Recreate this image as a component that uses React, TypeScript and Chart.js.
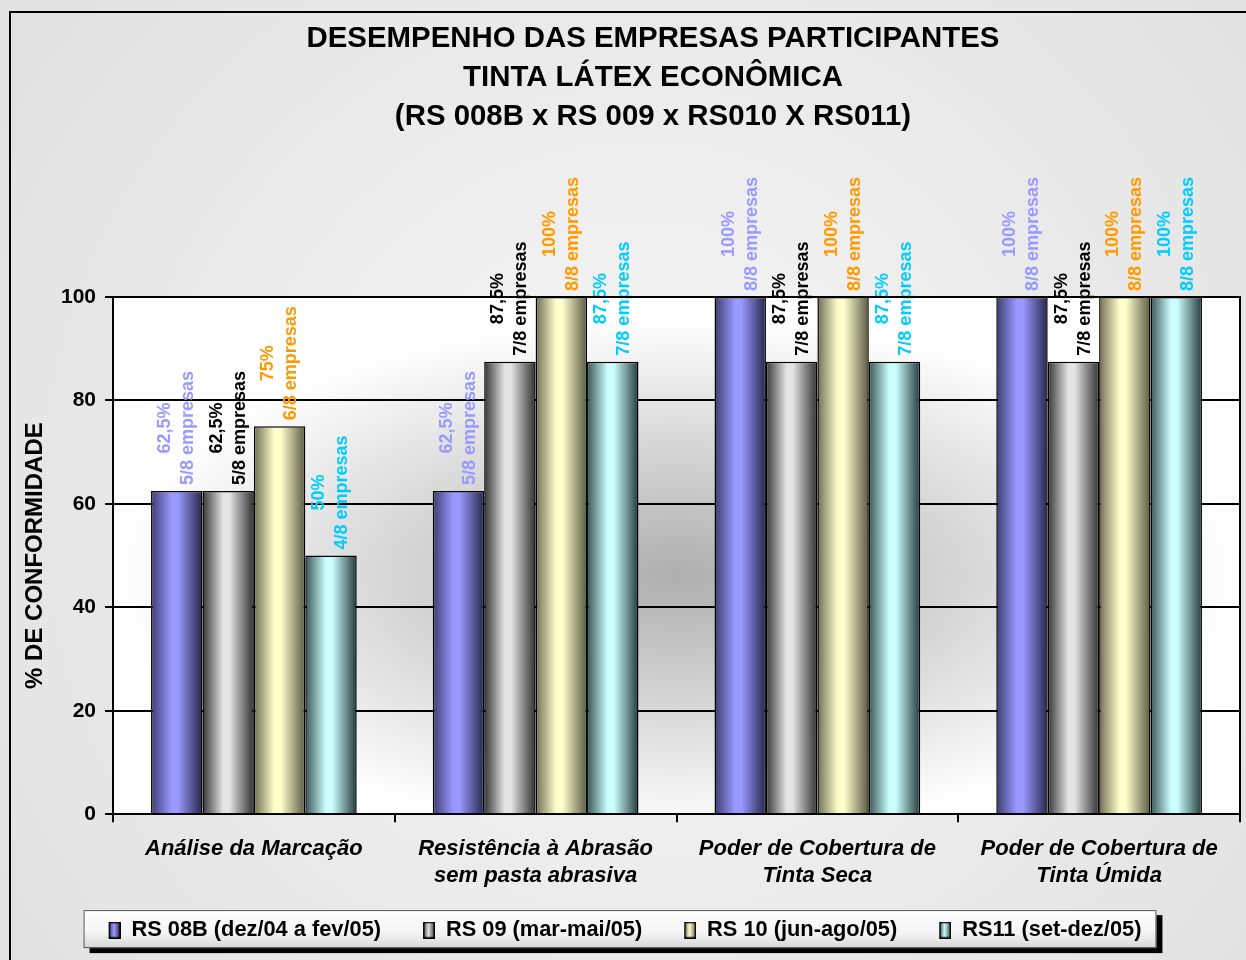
import React, { useEffect, useRef } from 'react';
import { Chart, registerables } from 'chart.js';

Chart.register(...registerables);

const FONT = '"Liberation Sans", Arial, Helvetica, sans-serif';

// ---------- data ----------
const titleLines = [
  'DESEMPENHO DAS EMPRESAS PARTICIPANTES',
  'TINTA LÁTEX ECONÔMICA',
  '(RS 008B x RS 009 x RS010 X RS011)',
];
const categories = [
  ['Análise da Marcação'],
  ['Resistência à Abrasão', 'sem pasta abrasiva'],
  ['Poder de Cobertura de', 'Tinta Seca'],
  ['Poder de Cobertura de', 'Tinta Úmida'],
];
const seriesNames = [
  'RS 08B (dez/04 a fev/05)',
  'RS 09 (mar-mai/05)',
  'RS 10 (jun-ago/05)',
  'RS11 (set-dez/05)',
];
const rs08bValues = [62.5, 62.5, 100, 100];
const rs09Values = [62.5, 87.5, 87.5, 87.5];
const rs10Values = [75, 100, 100, 100];
const rs11Values = [50, 87.5, 87.5, 100];
const rs08bCounts = [5, 5, 8, 8];
const rs09Counts = [5, 7, 7, 7];
const rs10Counts = [6, 8, 8, 8];
const rs11Counts = [4, 7, 7, 8];
const totalCompanies = 8;
const yMin = 0;
const yMax = 100;
const yStep = 20;
const yAxisTitle = '% DE CONFORMIDADE';

const seriesValues = [rs08bValues, rs09Values, rs10Values, rs11Values];
const seriesCounts = [rs08bCounts, rs09Counts, rs10Counts, rs11Counts];

// ---------- styles ----------
const barLight = ['#9999FF', '#E4E4E4', '#FFFFCC', '#CCFFFF'];
const barDarkL = ['#3C3C70', '#353535', '#6E6E52', '#385555'];
const barDarkR = ['#26264A', '#303030', '#5A5A44', '#243A3A'];
const labelColors = ['#9999FF', '#000000', '#FF9900', '#00CCFF'];

const MARK_PAD = 22; // transparent space left of legend marker
const MARK_W = 12;
const MARK_H = 17;

const fmtPct = (v: number) =>
  (Number.isInteger(v) ? String(v) : String(v).replace('.', ',')) + '%';

function makeMarker(i: number): HTMLCanvasElement {
  const c = document.createElement('canvas');
  c.width = MARK_PAD + MARK_W;
  c.height = MARK_H;
  const x = c.getContext('2d')!;
  const g = x.createLinearGradient(MARK_PAD, 0, MARK_PAD + MARK_W, 0);
  g.addColorStop(0, barDarkL[i]);
  g.addColorStop(0.45, barLight[i]);
  g.addColorStop(1, barDarkR[i]);
  x.fillStyle = g;
  x.fillRect(MARK_PAD, 0, MARK_W, MARK_H);
  x.strokeStyle = '#000';
  x.lineWidth = 1.5;
  x.strokeRect(MARK_PAD + 0.75, 0.75, MARK_W - 1.5, MARK_H - 1.5);
  return c;
}

const backgroundPlugin = {
  id: 'bgPlugin',
  afterLayout(chart: any) {
    const lg = chart.legend;
    if (lg) {
      lg.left -= MARK_PAD / 2;
      lg.right -= MARK_PAD / 2;
    }
  },
  beforeDraw(chart: any) {
    const { ctx, width, height, chartArea: ca } = chart;
    ctx.save();
    // outer background
    const og = ctx.createRadialGradient(645, 500, 0, 645, 500, 760);
    og.addColorStop(0, '#F7F7F7');
    og.addColorStop(1, '#E2E2E2');
    ctx.fillStyle = og;
    ctx.fillRect(0, 0, width, height);
    // frame
    ctx.strokeStyle = '#000';
    ctx.lineWidth = 2;
    ctx.strokeRect(10, 12, 1300, 1000);
    // plot area background (elliptical gradient)
    const cx = (ca.left + ca.right) / 2;
    const cy = (ca.top + ca.bottom) / 2 + 20;
    const rx = (ca.right - ca.left) / 2;
    const ry = (ca.bottom - ca.top) / 2;
    ctx.save();
    ctx.beginPath();
    ctx.rect(ca.left, ca.top, ca.right - ca.left, ca.bottom - ca.top);
    ctx.clip();
    ctx.translate(cx, cy);
    ctx.scale(1, ry / rx);
    const pg = ctx.createRadialGradient(0, 0, 0, 0, 0, rx);
    pg.addColorStop(0, '#AEAEAE');
    pg.addColorStop(1, '#FFFFFF');
    ctx.fillStyle = pg;
    ctx.fillRect(-rx * 2, -rx * 2, rx * 4, rx * 4);
    ctx.restore();
    // legend box
    const lg = chart.legend;
    if (lg && lg.legendHitBoxes && lg.legendHitBoxes.length) {
      const hb = lg.legendHitBoxes;
      const left = hb[0].left + MARK_PAD - 25;
      const last = hb[hb.length - 1];
      const right = last.left + last.width + 15;
      const midY = hb[0].top + hb[0].height / 2;
      const top = midY - 20;
      const bottom = midY + 18;
      ctx.fillStyle = '#000';
      ctx.fillRect(left + 6, top + 5, right - left, bottom - top);
      const bg = ctx.createLinearGradient(0, top, 0, bottom);
      bg.addColorStop(0, '#FFFFFF');
      bg.addColorStop(0.6, '#F4F4F4');
      bg.addColorStop(1, '#D6D6D6');
      ctx.fillStyle = bg;
      ctx.fillRect(left, top, right - left, bottom - top);
      ctx.strokeStyle = '#555';
      ctx.lineWidth = 1;
      ctx.strokeRect(left + 0.5, top + 0.5, right - left - 1, bottom - top - 1);
    }
    ctx.restore();
  },
  beforeDatasetsDraw(chart: any) {
    const ctx = chart.ctx;
    chart.data.datasets.forEach((_ds: any, i: number) => {
      const meta = chart.getDatasetMeta(i);
      meta.data.forEach((el: any) => {
        const { x, width } = el.getProps(['x', 'width'], true);
        const g = ctx.createLinearGradient(x - width / 2, 0, x + width / 2, 0);
        g.addColorStop(0, barDarkL[i]);
        g.addColorStop(0.4, barLight[i]);
        g.addColorStop(0.52, barLight[i]);
        g.addColorStop(1, barDarkR[i]);
        el.options.backgroundColor = g;
      });
    });
  },
  afterDatasetsDraw(chart: any) {
    const ctx = chart.ctx;
    ctx.save();
    ctx.font = `bold 18px ${FONT}`;
    ctx.textAlign = 'center';
    ctx.textBaseline = 'middle';
    chart.data.datasets.forEach((_ds: any, i: number) => {
      const meta = chart.getDatasetMeta(i);
      meta.data.forEach((el: any, j: number) => {
        const lines = [
          fmtPct(seriesValues[i][j]),
          `${seriesCounts[i][j]}/${totalCompanies} empresas`,
        ];
        const maxW = Math.max(...lines.map((l) => ctx.measureText(l).width));
        const cy = el.y - 6 - maxW / 2;
        ctx.save();
        ctx.translate(el.x, cy);
        ctx.rotate(-Math.PI / 2);
        ctx.fillStyle = labelColors[i];
        ctx.fillText(lines[0], 0, -11.5);
        ctx.fillText(lines[1], 0, 11.5);
        ctx.restore();
      });
    });
    ctx.restore();
  },
  afterDraw(chart: any) {
    const { ctx, chartArea: ca } = chart;
    ctx.save();
    // plot border top/right
    ctx.strokeStyle = '#000';
    ctx.lineWidth = 2;
    ctx.beginPath();
    ctx.moveTo(ca.left, ca.top);
    ctx.lineTo(ca.right, ca.top);
    ctx.lineTo(ca.right, ca.bottom);
    ctx.stroke();
    // title
    ctx.fillStyle = '#000';
    ctx.font = `bold 29.4px ${FONT}`;
    ctx.textAlign = 'center';
    ctx.textBaseline = 'middle';
    const ys = [39, 78, 117];
    titleLines.forEach((t, k) => ctx.fillText(t, 653, ys[k]));
    ctx.restore();
  },
};

export default function App() {
  const ref = useRef<HTMLCanvasElement | null>(null);
  useEffect(() => {
    if (!ref.current) return;
    const markers = seriesNames.map((_, i) => makeMarker(i));
    const chart = new Chart(ref.current, {
      type: 'bar',
      data: {
        labels: categories as any,
        datasets: seriesNames.map((name, i) => ({
          label: name,
          data: seriesValues[i],
          backgroundColor: () => barLight[i],
          borderColor: '#000',
          borderWidth: 1.5,
          borderSkipped: 'start',
          barPercentage: 1,
          categoryPercentage: 0.73,
        })),
      },
      options: {
        responsive: false,
        maintainAspectRatio: false,
        animation: false,
        devicePixelRatio: 1,
        layout: { padding: { top: 297, left: 10, right: 6, bottom: 9 } },
        plugins: {
          title: { display: false },
          tooltip: { enabled: false },
          legend: {
            display: true,
            position: 'bottom',
            labels: {
              font: { family: FONT, size: 21.8, weight: 'bold' },
              color: '#000',
              padding: 20,
              boxHeight: MARK_H,
              usePointStyle: true,
              pointStyleWidth: MARK_PAD + MARK_W,
              generateLabels: (ch: any) =>
                ch.data.datasets.map((ds: any, i: number) => ({
                  text: ds.label,
                  fillStyle: barLight[i],
                  strokeStyle: '#000',
                  lineWidth: 1,
                  pointStyle: markers[i],
                  datasetIndex: i,
                  hidden: false,
                  fontColor: '#000',
                })),
            },
          },
        },
        scales: {
          x: {
            grid: {
              offset: true,
              drawOnChartArea: false,
              drawTicks: true,
              tickLength: 8,
              color: '#000',
              lineWidth: 2,
            },
            border: { display: true, color: '#000', width: 2 },
            ticks: {
              color: '#000',
              font: { family: FONT, size: 22, weight: 'bold', style: 'italic', lineHeight: 1.2 },
              padding: 14,
              maxRotation: 0,
              autoSkip: false,
            },
            afterFit: (s: any) => {
              s.height = 85;
            },
          },
          y: {
            min: yMin,
            max: yMax,
            ticks: {
              stepSize: yStep,
              color: '#000',
              font: { family: FONT, size: 21, weight: 'bold' },
              padding: 9,
            },
            grid: { color: '#000', lineWidth: 2, drawTicks: true, tickLength: 8 },
            border: { display: true, color: '#000', width: 2 },
            title: {
              display: true,
              text: yAxisTitle,
              color: '#000',
              font: { family: FONT, size: 24, weight: 'bold', lineHeight: 1.2 },
              padding: { top: 11, bottom: 0 },
            },
            afterFit: (s: any) => {
              s.width = 103;
            },
          },
        },
      },
      plugins: [backgroundPlugin],
    });
    return () => chart.destroy();
  }, []);
  return (
    <div style={{ position: 'fixed', left: 0, top: 0, width: 1246, height: 960, overflow: 'hidden' }}>
      <canvas ref={ref} width={1246} height={960} style={{ display: 'block' }} />
    </div>
  );
}
